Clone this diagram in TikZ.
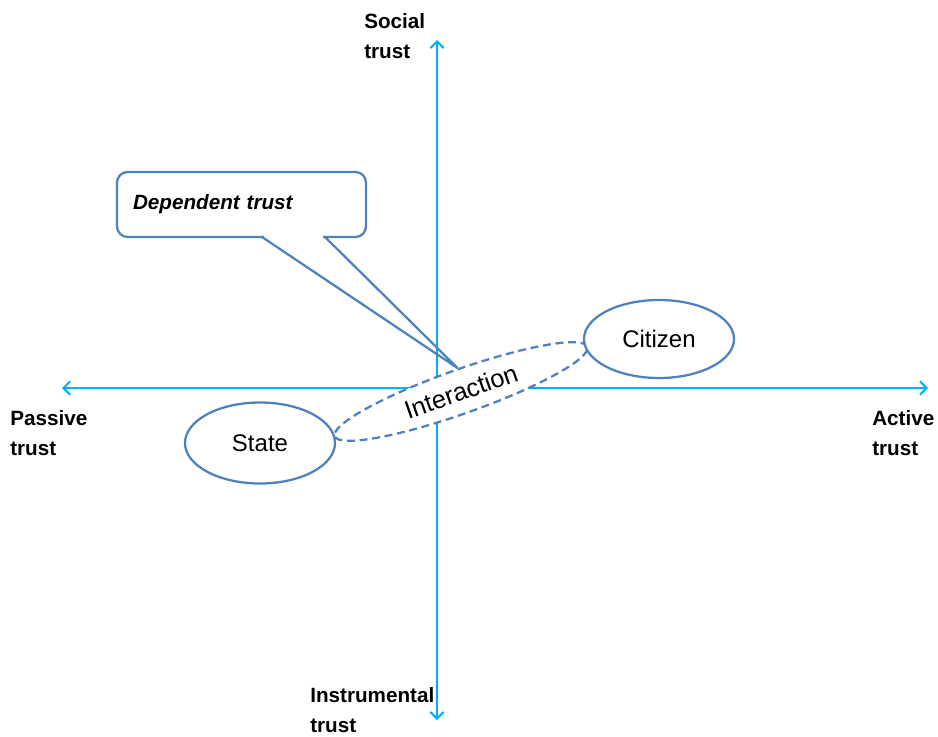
\documentclass[tikz,border=0pt]{standalone}
\usepackage{fontspec}
\setmainfont{Liberation Sans}
\usetikzlibrary{arrows.meta,shapes.geometric,calc}
\definecolor{axisblue}{RGB}{0,176,240}
\definecolor{edgeblue}{RGB}{79,129,189}
\begin{document}
\begin{tikzpicture}[x=0.75pt,y=-0.75pt,
  axisline/.style={draw=axisblue,line width=1.5pt,
    {Straight Barb[length=5pt,width=10pt]}-{Straight Barb[length=5pt,width=10pt]}},
  axislabel/.style={align=left,font=\fontsize{15.5}{22.5}\selectfont\bfseries,inner sep=0pt,anchor=west},
  actor/.style={ellipse,draw=edgeblue,line width=1.7pt,fill=white,inner sep=0pt,
    font=\fontsize{18}{21}\selectfont},
  linkdash/.style={dash pattern=on 6pt off 3.5pt},
  callout/.style={draw=edgeblue,line width=1.7pt,line join=miter},
  calloutbox/.style={callout,rectangle,rounded corners=8pt,fill=white,
    minimum width=186.75pt,minimum height=48.75pt,inner xsep=12pt,
    text width=162.75pt,align=left,font=\fontsize{15.5}{18}\selectfont\bfseries\itshape}
]
\useasboundingbox (0,0) rectangle (938,736);

% axes
\coordinate (W) at (62,388);
\coordinate (E) at (928,388);
\coordinate (N) at (437,40);
\coordinate (S) at (437,720);
\draw[axisline] (W) -- (E);
\draw[axisline] (S) -- (N);

% axis labels
\node[axislabel] (social) at (364,36) {Social\\trust};
\node[axislabel] (passive) at (10,433) {Passive\\trust};
\node[axislabel] (active) at (872,433) {Active\\trust};
\node[axislabel] (instr) at (310,710) {Instrumental\\trust};

% callout
\node[calloutbox] (dep) at (241.5,204.5) {Dependent trust};
\coordinate (b1) at (262,237);
\coordinate (b2) at (325,237);
\coordinate (tip) at (457.5,368);
\draw[white,line width=2.8pt] ($(b1)+(2,0)$) -- ($(b2)+(-2,0)$);
\draw[callout] (b1) -- (tip) -- (b2);

% actors
\node[actor,linkdash,rotate=19.5,minimum width=201pt,minimum height=33pt,
  font=\fontsize{19}{22}\selectfont] (inter) at (461,391.5) {Interaction};
\node[actor,minimum width=112.5pt,minimum height=60.75pt] (state) at (260,443) {State};
\node[actor,minimum width=112.5pt,minimum height=58.5pt] (citizen) at (659,339) {Citizen};
\end{tikzpicture}
\end{document}
